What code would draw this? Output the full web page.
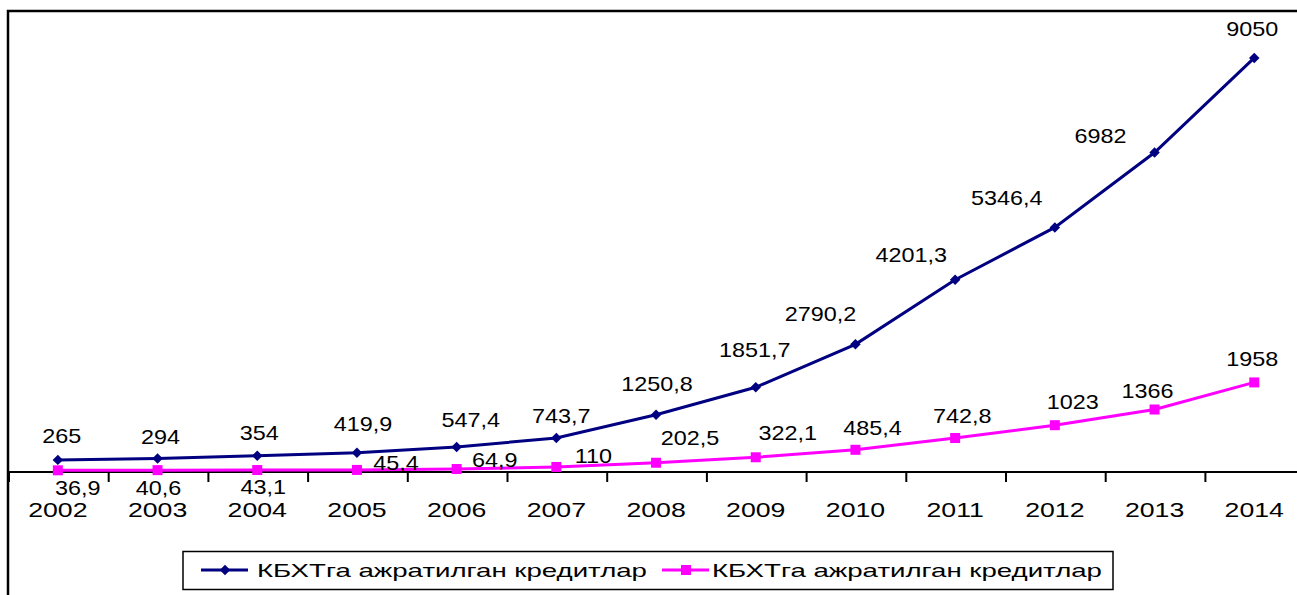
<!DOCTYPE html>
<html>
<head>
<meta charset="utf-8">
<script src="https://cdn.jsdelivr.net/npm/d3@7"></script>
<style>
  body { margin: 0; background: #fff; }
  text { font-family: 'Liberation Sans', Arial, sans-serif; fill: #000; }
</style>
</head>
<body>
<div id="chart"></div>
<script>
var years = ['2002', '2003', '2004', '2005', '2006', '2007', '2008', '2009', '2010', '2011', '2012', '2013', '2014']
var creditsA = [265, 294, 354, 419.9, 547.4, 743.7, 1250.8, 1851.7, 2790.2, 4201.3, 5346.4, 6982, 9050]
var creditsB = [36.9, 40.6, 43.1, 45.4, 64.9, 110, 202.5, 322.1, 485.4, 742.8, 1023, 1366, 1958]
var labelsA = ['265', '294', '354', '419,9', '547,4', '743,7', '1250,8', '1851,7', '2790,2', '4201,3', '5346,4', '6982', '9050']
var labelsB = ['36,9', '40,6', '43,1', '45,4', '64,9', '110', '202,5', '322,1', '485,4', '742,8', '1023', '1366', '1958']
var seriesNames = ['КБХТга ажратилган кредитлар', 'КБХТга ажратилган кредитлар']

// label nudges (dx, dy from the point), as placed in the original
var nudgeA = [[4, -17], [3, -15], [2, -16], [6, -22], [14, -20], [5, -15], [1, -24], [-1, -30], [-35, -23], [-44, -18], [-48, -22], [-54, -10], [-2, -22]]
var nudgeB = [[20, 25], [1, 25], [6, 24], [39, 0], [38, -2], [37, -4], [34, -18], [32, -17], [17, -15], [7, -15], [18, -16], [-7, -12], [-2, -16]]

var width = 1297
var height = 595
var plotLeft = 8
var step = 99.7
var axisY = 472

var svg = d3
  .select('#chart')
  .append('svg')
  .attr('width', width)
  .attr('height', height)

var xScale = d3
  .scaleBand()
  .domain(years)
  .range([plotLeft, plotLeft + step * years.length])
  .padding(0)

var yScale = d3
  .scaleLinear()
  .domain([0, 10000])
  .range([axisY, 14.5])

function cx(d, i) {
  return xScale(years[i]) + xScale.bandwidth() / 2
}

// chart border (cut at right/bottom)
svg
  .append('path')
  .attr('d', 'M8,' + height + ' L8,11 L' + width + ',11')
  .attr('fill', 'none')
  .attr('stroke', '#000')
  .attr('stroke-width', 2.5)

// x axis
var xAxis = d3
  .axisBottom(xScale)
  .tickSize(0)
  .tickFormat('')

svg
  .append('g')
  .attr('transform', 'translate(0,' + axisY + ')')
  .call(xAxis)
  .call(g => g.select('.domain').attr('stroke', '#000').attr('stroke-width', 2).attr('d', 'M' + plotLeft + ',0H' + width))

var tickPos = d3.range(years.length + 1).map(i => plotLeft + 1 + i * step)
svg
  .selectAll('.tick-mark')
  .data(tickPos)
  .enter()
  .append('line')
  .attr('class', 'tick-mark')
  .attr('x1', d => d)
  .attr('x2', d => d)
  .attr('y1', axisY)
  .attr('y2', axisY + 10)
  .attr('stroke', '#000')
  .attr('stroke-width', 2)

svg
  .selectAll('.year')
  .data(years)
  .enter()
  .append('g')
  .attr('class', 'year')
  .attr('transform', d => 'translate(' + (xScale(d) + xScale.bandwidth() / 2) + ',517) scale(1.27,1)')
  .append('text')
  .attr('text-anchor', 'middle')
  .attr('font-size', 21)
  .text(d => d)

var line = d3
  .line()
  .x(cx)
  .y(d => yScale(d))

// pink series
svg
  .append('path')
  .datum(creditsB)
  .attr('d', line)
  .attr('fill', 'none')
  .attr('stroke', '#ff00ff')
  .attr('stroke-width', 3)

svg
  .selectAll('.sq')
  .data(creditsB)
  .enter()
  .append('rect')
  .attr('class', 'sq')
  .attr('x', (d, i) => cx(d, i) - 5)
  .attr('y', d => yScale(d) - 5)
  .attr('width', 10)
  .attr('height', 10)
  .attr('fill', '#ff00ff')

// navy series
svg
  .append('path')
  .datum(creditsA)
  .attr('d', line)
  .attr('fill', 'none')
  .attr('stroke', '#000080')
  .attr('stroke-width', 3)

var diamond = d3.symbol().type(d3.symbolDiamond2).size(70)

svg
  .selectAll('.dia')
  .data(creditsA)
  .enter()
  .append('path')
  .attr('class', 'dia')
  .attr('d', diamond)
  .attr('transform', (d, i) => 'translate(' + cx(d, i) + ',' + yScale(d) + ')')
  .attr('fill', '#000080')

// data labels
function addLabels(values, labels, nudge, cls) {
  svg
    .selectAll('.' + cls)
    .data(values)
    .enter()
    .append('g')
    .attr('class', cls)
    .attr('transform', (d, i) => 'translate(' + (cx(d, i) + nudge[i][0]) + ',' + (yScale(d) + nudge[i][1]) + ') scale(1.17,1)')
    .append('text')
    .attr('text-anchor', 'middle')
    .attr('font-size', 20)
    .text((d, i) => labels[i])
}
addLabels(creditsA, labelsA, nudgeA, 'lab-a')
addLabels(creditsB, labelsB, nudgeB, 'lab-b')

// legend
var legend = svg.append('g')
legend
  .append('rect')
  .attr('x', 183)
  .attr('y', 551.5)
  .attr('width', 930)
  .attr('height', 38)
  .attr('fill', '#fff')
  .attr('stroke', '#000')
  .attr('stroke-width', 1.5)

var legendItems = [
  { x: 201, color: '#000080', marker: 'diamond', textX: 257 },
  { x: 662, color: '#ff00ff', marker: 'square', textX: 712 }
]

legendItems.forEach((item, i) => {
  legend
    .append('line')
    .attr('x1', item.x)
    .attr('x2', item.x + 47)
    .attr('y1', 570)
    .attr('y2', 570)
    .attr('stroke', item.color)
    .attr('stroke-width', 3)
  if (item.marker === 'diamond') {
    legend
      .append('path')
      .attr('d', diamond)
      .attr('transform', 'translate(' + (item.x + 24) + ',570)')
      .attr('fill', item.color)
  } else {
    legend
      .append('rect')
      .attr('x', item.x + 19)
      .attr('y', 565)
      .attr('width', 10)
      .attr('height', 10)
      .attr('fill', item.color)
  }
  legend
    .append('text')
    .attr('x', item.textX)
    .attr('y', 577)
    .attr('font-size', 19)
    .attr('textLength', 390)
    .attr('lengthAdjust', 'spacingAndGlyphs')
    .text(seriesNames[i])
})
</script>
</body>
</html>
